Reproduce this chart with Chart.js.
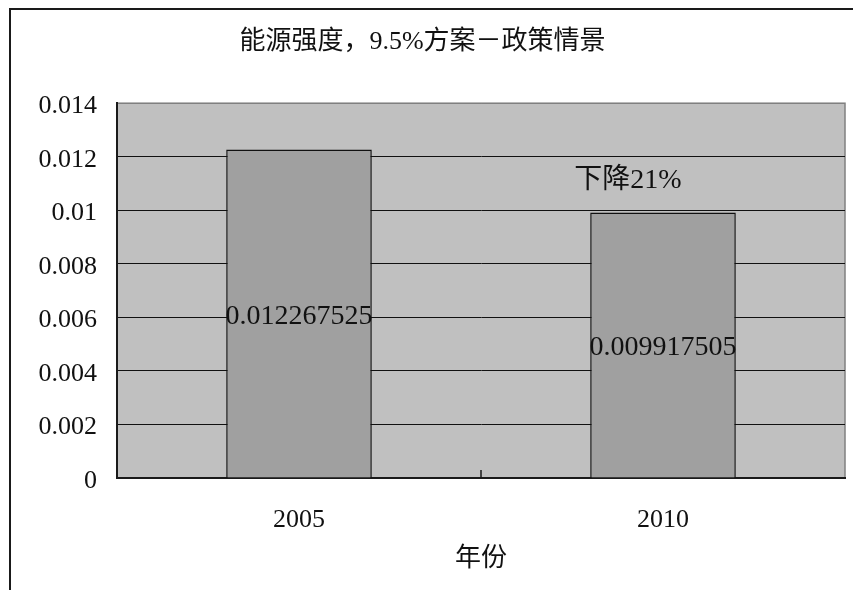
<!DOCTYPE html>
<html>
<head>
<meta charset="utf-8">
<script src="https://cdn.jsdelivr.net/npm/chart.js@4/dist/chart.umd.min.js"></script>
<style>
  html, body { margin: 0; padding: 0; background: #ffffff; }
  #wrap { width: 853px; height: 590px; }
</style>
</head>
<body>
<div id="wrap"><canvas id="c" width="853" height="590"></canvas></div>
<script>
// Energy intensity, 9.5% scenario - policy case
const years = ['2005', '2010'];
const intensity = [0.012267525, 0.009917505];
const yTickLabels = ['0', '0.002', '0.004', '0.006', '0.008', '0.01', '0.012', '0.014'];
const chartTitle = '能源强度，9.5%方案－政策情景';
const xAxisTitle = '年份';
const dropNote = '下降21%';
const dropNoteAt = { index: 1, value: 0.0111 };

const FONT = "'Liberation Serif', 'Noto Sans CJK SC', serif";

const frame = {
  id: 'frame',
  beforeDraw(chart) {
    const { ctx, chartArea: a } = chart;
    ctx.save();
    // outer chart frame
    ctx.strokeStyle = '#1a1a1a';
    ctx.lineWidth = 2;
    ctx.beginPath();
    ctx.moveTo(10, chart.height);
    ctx.lineTo(10, 9);
    ctx.lineTo(chart.width, 9);
    ctx.stroke();
    // plot area
    ctx.fillStyle = '#c0c0c0';
    ctx.fillRect(a.left, a.top, a.right - a.left, a.bottom - a.top);
    ctx.strokeStyle = '#808080';
    ctx.lineWidth = 1.5;
    ctx.strokeRect(a.left, a.top, a.right - a.left, a.bottom - a.top);
    ctx.restore();
  },
  afterDatasetsDraw(chart) {
    const { ctx, chartArea: a } = chart;
    const xs = chart.scales.x, ys = chart.scales.y;
    ctx.save();
    // inward tick between categories
    ctx.strokeStyle = '#1a1a1a';
    ctx.lineWidth = 1.5;
    for (let i = 0; i < years.length - 1; i++) {
      const bx = (xs.getPixelForValue(i) + xs.getPixelForValue(i + 1)) / 2;
      ctx.beginPath();
      ctx.moveTo(bx, a.bottom);
      ctx.lineTo(bx, a.bottom - 8);
      ctx.stroke();
    }
    // value labels centred in bars
    ctx.fillStyle = '#111111';
    ctx.font = "28px " + FONT;
    ctx.textAlign = 'center';
    ctx.textBaseline = 'middle';
    const meta = chart.getDatasetMeta(0);
    meta.data.forEach((bar, i) => {
      ctx.fillText(String(intensity[i]), bar.x, (bar.y + bar.base) / 2 + 3);
    });
    // decline note above the 2010 bar
    ctx.font = "28px " + FONT;
    ctx.fillText(dropNote, xs.getPixelForValue(dropNoteAt.index) - 35, ys.getPixelForValue(dropNoteAt.value));
    ctx.restore();
  }
};

new Chart(document.getElementById('c'), {
  type: 'bar',
  data: {
    labels: years,
    datasets: [{
      data: intensity,
      backgroundColor: '#a0a0a0',
      borderColor: '#111111',
      borderWidth: 1.5,
      categoryPercentage: 1,
      barPercentage: 0.4
    }]
  },
  options: {
    responsive: false,
    animation: false,
    layout: { padding: { left: 0, right: 8, top: 0, bottom: 0 } },
    plugins: {
      legend: { display: false },
      tooltip: { enabled: false },
      title: {
        display: true,
        text: chartTitle,
        color: '#111111',
        font: { family: FONT, size: 26, weight: 'normal', lineHeight: 1.2 },
        padding: { top: 27, bottom: 45 }
      }
    },
    scales: {
      x: {
        offset: true,
        grid: { display: false },
        border: { display: true, color: '#1a1a1a', width: 2 },
        ticks: { color: '#111111', font: { family: FONT, size: 26 }, padding: 19, maxRotation: 0 },
        title: {
          display: true,
          text: xAxisTitle,
          color: '#111111',
          font: { family: FONT, size: 26, lineHeight: 1.2 },
          padding: { top: 4, bottom: 15 }
        },
        afterFit(scale) { scale.height = 112; }
      },
      y: {
        min: 0,
        max: 0.014,
        ticks: {
          stepSize: 0.002,
          color: '#111111',
          font: { family: FONT, size: 26 },
          padding: 20,
          labelOffset: 3,
          callback: (v, i) => yTickLabels[i]
        },
        grid: {
          drawTicks: false,
          color: (ctx) => ctx.index === yTickLabels.length - 1 ? '#808080' : '#111111',
          lineWidth: 1
        },
        border: { display: true, color: '#1a1a1a', width: 2 },
        afterFit(scale) { scale.width = 117; }
      }
    }
  },
  plugins: [frame]
});
</script>
</body>
</html>
